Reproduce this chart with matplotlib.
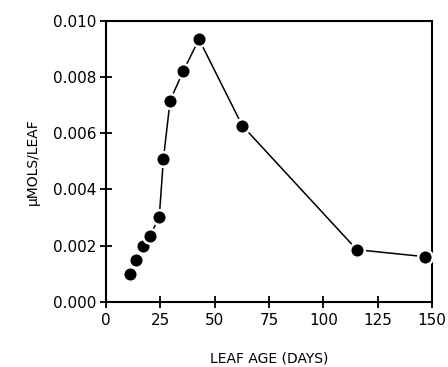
import matplotlib
matplotlib.use("Agg")
import matplotlib.pyplot as plt

leaf_age = [11.0, 13.8, 17.2, 20.2, 24.5, 26.4, 29.5, 35.6, 42.8, 62.7, 115.4, 146.8]
umols = [0.00100, 0.00149, 0.00200, 0.00236, 0.00301, 0.00507, 0.00716,
         0.00822, 0.00934, 0.00627, 0.00186, 0.00161]
x_ticks = [0, 25, 50, 75, 100, 125, 150]
y_ticks = [0.000, 0.002, 0.004, 0.006, 0.008, 0.010]

plt.rcParams['font.family'] = ['DejaVu Sans']

fig = plt.figure(figsize=(4.48, 3.67), dpi=100)
ax = fig.add_axes([0.2366, 0.1771, 0.7277, 0.7665])

ax.plot(leaf_age, umols, color='black', lw=1.1, marker='o', ms=10.5,
        mfc='black', mec='white', mew=1.8, clip_on=False, zorder=3)

ax.set_xlim(0, 150)
ax.set_ylim(0, 0.010)
ax.set_xticks(x_ticks)
ax.set_yticks(y_ticks)
ax.set_yticklabels(['%.3f' % v for v in y_ticks])

for s in ax.spines.values():
    s.set_linewidth(1.5)
ax.tick_params(direction='inout', length=8, width=1.3, labelsize=11,
               top=False, right=False)
ax.tick_params(axis='y', pad=3)
ax.tick_params(axis='x', pad=4)

ax.set_xlabel('LEAF AGE (DAYS)', fontsize=10, labelpad=17)
ax.set_ylabel('\u03bcMOLS/LEAF', fontsize=10, labelpad=9)

fig.savefig('out.png', dpi=100)
